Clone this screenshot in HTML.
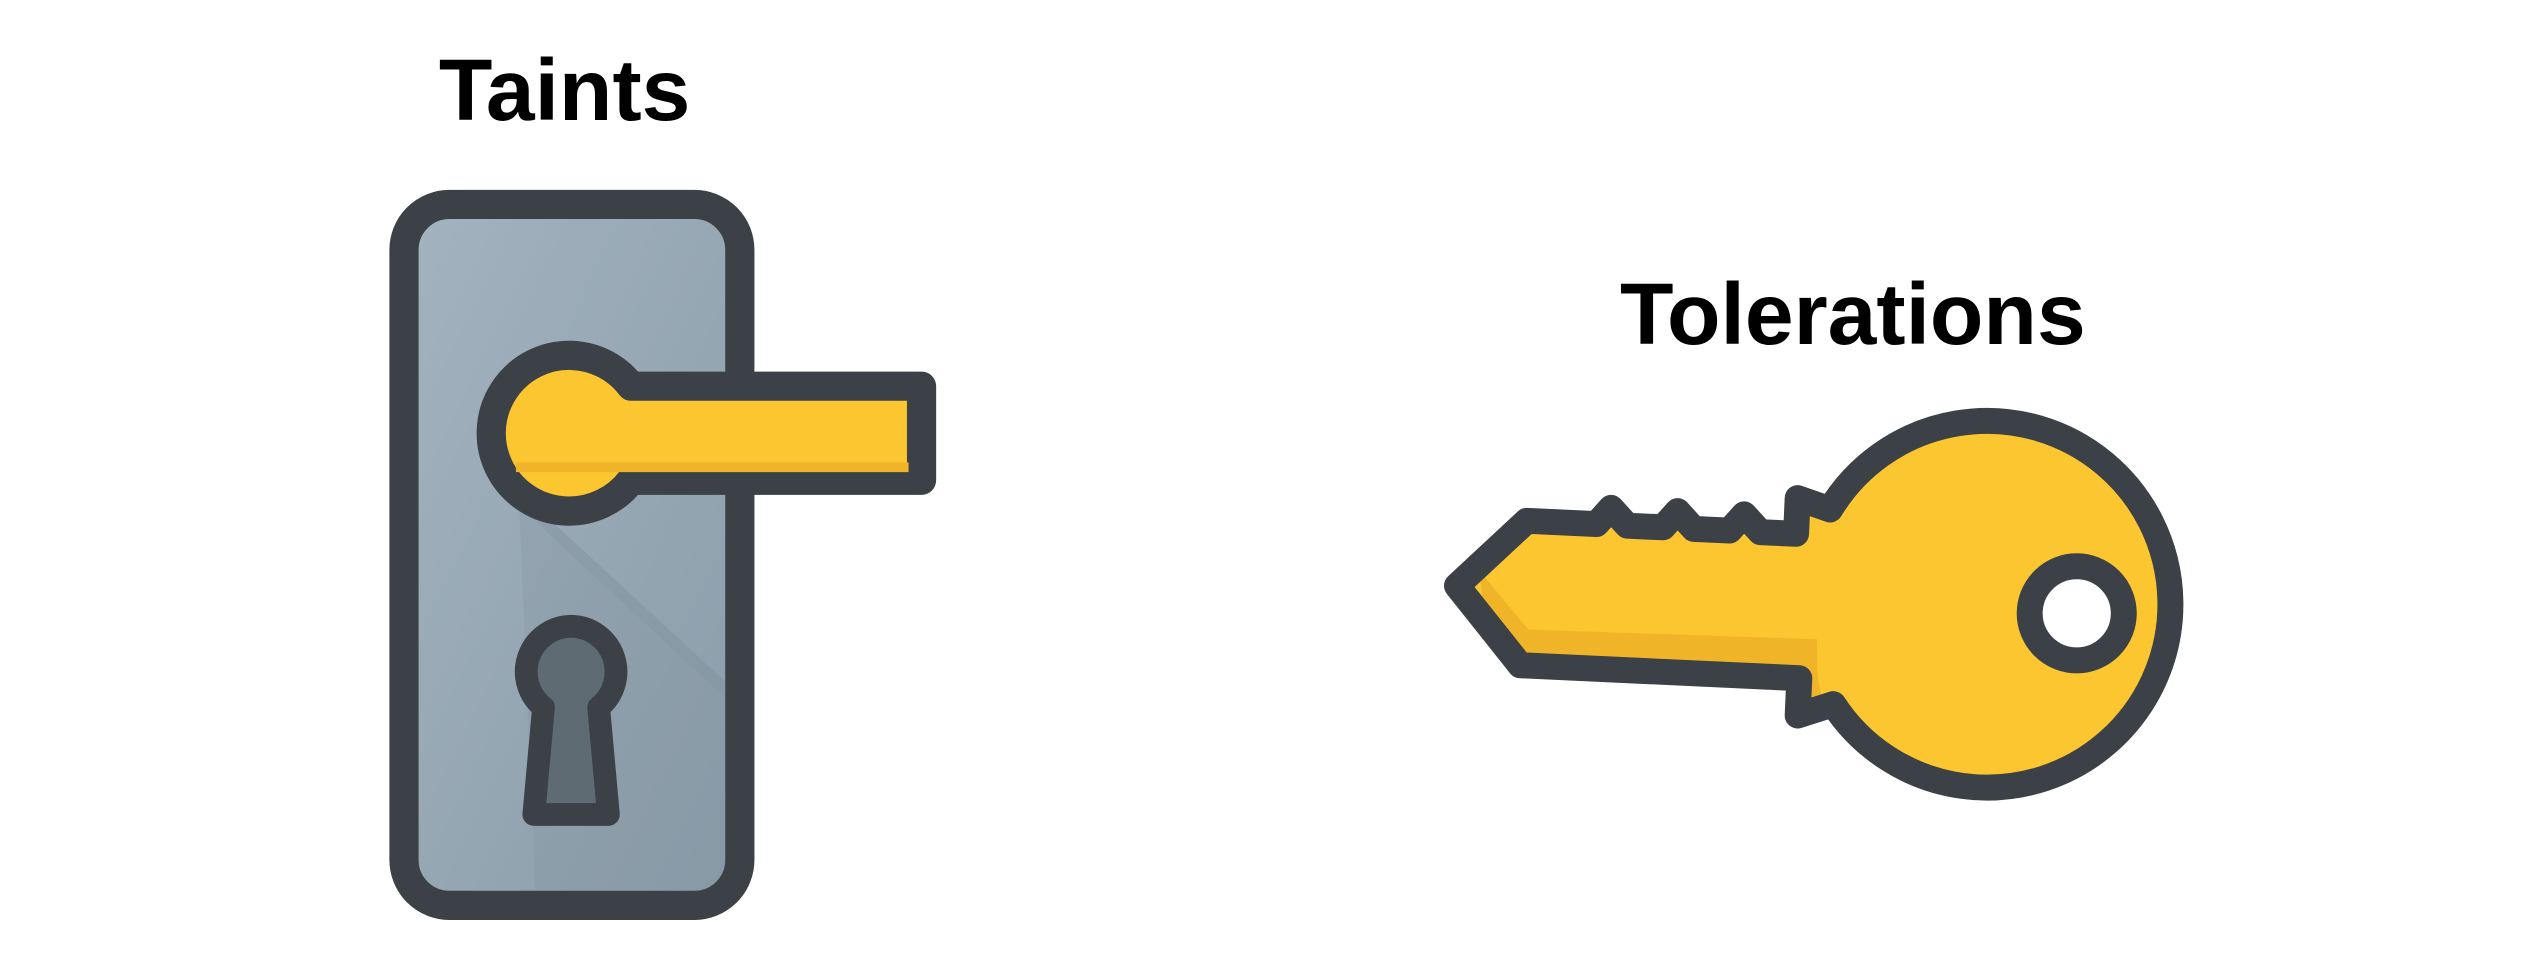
<!DOCTYPE html>
<html><head><meta charset="utf-8"><style>
html,body{margin:0;padding:0;background:#fff;width:2544px;height:956px;overflow:hidden}
svg{display:block}
text{font-family:"Liberation Sans","DejaVu Sans",sans-serif;font-weight:bold;fill:#000}
</style></head><body>
<svg width="2544" height="956" viewBox="0 0 1568 589.2">
<defs>
<linearGradient id="plate" x1="0" y1="0" x2="1" y2="1">
<stop offset="0" stop-color="#a3b3bf"/><stop offset="1" stop-color="#8a9ca9"/></linearGradient>
<clipPath id="plateclip"><rect x="258" y="135" width="189" height="414" rx="20"/></clipPath>
<clipPath id="keyclip"><path d="M898,361 L941,321 L984,323 L993,313 L1003,324 L1025,325 L1034,315 L1044,326 L1066,327 L1075,317 L1085,328 L1107,329 L1108,307 L1128,314 A113,113 0 1,1 1130,434 L1108,441 L1109,418 L937,410 Z"/></clipPath>
</defs>
<text x="348" y="74" font-size="54" text-anchor="middle">Taints</text>
<text x="1142" y="212" font-size="54" text-anchor="middle">Tolerations</text>
<g>
<rect x="249" y="126" width="207" height="432" rx="28" fill="url(#plate)" stroke="#3b4146" stroke-width="18"/>
<polygon clip-path="url(#plateclip)" points="320,312 447,430 447,420 330,312" fill="#7f909c" opacity="0.45"/>
<polygon clip-path="url(#plateclip)" points="320,312 447,430 447,550 330,550" fill="#7f909c" opacity="0.25"/>
<path d="M352,219 A48,48 0 1,0 389,296 L568,296 L568,238 L389,238 A48,48 0 0,0 352,219 Z" fill="#fcc630" stroke="#3b4146" stroke-width="18" stroke-linejoin="round"/>
<path d="M318,288 L560,288" stroke="#f0b429" stroke-width="6"/>
<path d="M352,386 A28,28 0 0,0 335,436 L329,502 L375,502 L369,436 A28,28 0 0,0 352,386 Z" fill="#5f6b73" stroke="#3b4146" stroke-width="14" stroke-linejoin="round"/>
</g>
<g>
<path d="M898,361 L941,321 L984,323 L993,313 L1003,324 L1025,325 L1034,315 L1044,326 L1066,327 L1075,317 L1085,328 L1107,329 L1108,307 L1128,314 A113,113 0 1,1 1130,434 L1108,441 L1109,418 L937,410 Z" fill="#fcc630"/>
<g clip-path="url(#keyclip)">
<path d="M912,352 L942,388 L1120,394 L1120,430 L920,430 Z" fill="#f0b429"/>
<path d="M1120,400 A110,110 0 0,0 1340,410 L1340,500 L1120,500 Z" fill="#f0b429"/>
<circle cx="1232" cy="372" r="105" fill="#fcc630" transform="translate(0,-8)"/>
</g>
<path d="M898,361 L941,321 L984,323 L993,313 L1003,324 L1025,325 L1034,315 L1044,326 L1066,327 L1075,317 L1085,328 L1107,329 L1108,307 L1128,314 A113,113 0 1,1 1130,434 L1108,441 L1109,418 L937,410 Z" fill="none" stroke="#3b4146" stroke-width="16" stroke-linejoin="round"/>
<circle cx="1280" cy="378" r="29" fill="#fff" stroke="#3b4146" stroke-width="16"/>
</g>
</svg>
</body></html>
